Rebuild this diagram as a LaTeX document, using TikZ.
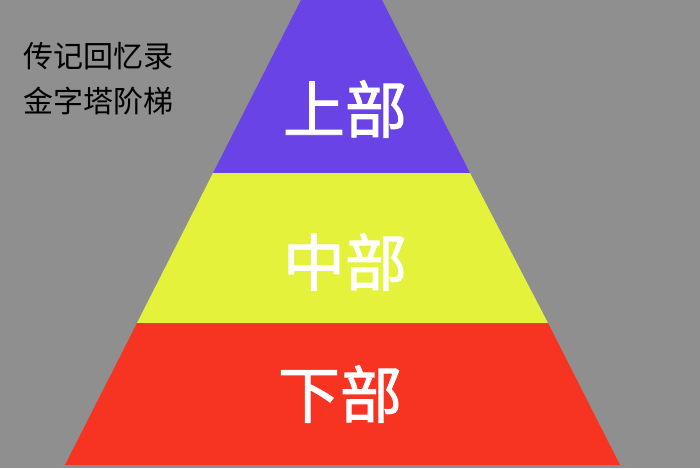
\documentclass[tikz,border=0pt]{standalone}
\usepackage{fontspec}
\newfontfamily\cjk{Noto Sans CJK SC}
\newfontfamily\cjkthick{Noto Sans CJK SC}[FakeBold=1.5]
\usepackage{tikz}
\definecolor{bggray}{HTML}{8F8F8F}
\definecolor{toppurple}{HTML}{6943E6}
\definecolor{midyellow}{HTML}{E4F23C}
\definecolor{lowred}{HTML}{F73422}
\newcommand{\tierfont}{\cjkthick\fontsize{62}{62}\selectfont}
\newcommand{\notefont}{\cjk\fontsize{30}{45}\selectfont}

\begin{document}
\begin{tikzpicture}[x=1pt,y=-1pt,
   tier/.style={font=\tierfont,text=white,draw=none},
   note/.style={anchor=north west,align=left,inner sep=0pt,font=\notefont}]
   \fill[bggray] (0,0) rectangle (700,468);
   \useasboundingbox (0,0) rectangle (700,468);
   \fill[toppurple] (301,  0) -- (382,  0) -- (470,173) -- (213,173) -- cycle;
   \fill[midyellow] (213,173) -- (470,173) -- (548,323) -- (137,323) -- cycle;
   \fill[lowred]    (137,323) -- (548,323) -- (620,465) -- ( 65,465) -- cycle;
   \node[tier] (upper)  at (345,109) {上部};
   \node[tier] (middle) at (345,262) {中部};
   \node[tier] (lower)  at (340,394) {下部};
   \node[note] (title) at (23,42) {传记回忆录\\金字塔阶梯};
\end{tikzpicture}
\end{document}
